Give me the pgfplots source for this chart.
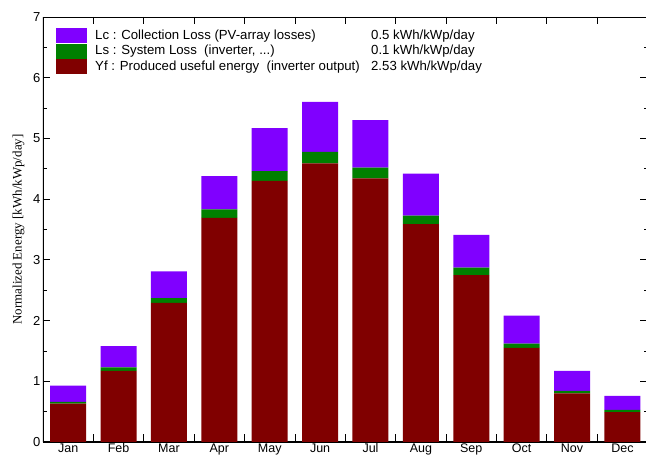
\documentclass[border=0pt]{standalone}
\usepackage{fontspec}
\setmainfont{Liberation Sans}
\newfontfamily\seriffont{Liberation Serif}
\usepackage{pgfplots}
\pgfplotsset{compat=1.18}
\definecolor{lcpurple}{HTML}{8000FF}
\definecolor{lsgreen}{HTML}{008000}
\definecolor{yfred}{HTML}{800000}
\begin{document}
\begin{tikzpicture}
\begin{axis}[
  at={(0pt,0pt)}, anchor=south west,
  scale only axis, width=604.6pt, height=425pt,
  xmin=0.5, xmax=12.5, ymin=0, ymax=7,
  ybar stacked, bar width=36pt, bar shift=0pt,
  xtick={1.5,2.5,...,11.5},
  xticklabels={},
  extra x ticks={1,...,12},
  extra x tick labels={Jan,Feb,Mar,Apr,May,Jun,Jul,Aug,Sep,Oct,Nov,Dec},
  extra x tick style={major tick length=0pt,
    xticklabel style={font=\fontsize{12.5}{13}\selectfont, inner ysep=1.5pt, yshift=0pt}},
  ytick={0,...,7}, minor y tick num=1,
  tick align=inside,
  major tick length=7.5pt, minor tick length=4pt,
  tick style={black, line width=0.8pt},
  axis line style={line width=0.8pt},
  /pgf/number format/assume math mode=true,
  tick label style={font=\fontsize{13}{14}\selectfont},
  yticklabel style={xshift=1pt},
  ylabel={\seriffont Normalized Energy [kWh/kWp/day]},
  ylabel style={font=\fontsize{13}{14}\selectfont, yshift=2pt},
  legend cell align=left,
  reverse legend,
  legend style={draw=none, fill=none, at={(0.0215,0.974)}, anchor=north west,
    inner sep=0pt, row sep=0.5pt,
    font=\fontsize{13.2}{14}\selectfont,
    nodes={inner xsep=8pt, inner ysep=0pt, text height=9.5pt, text depth=3pt}},
  legend image code/.code={\fill[#1] (0pt,-7.5pt) rectangle (31pt,7.5pt);},
]
\addplot+[fill=yfred, draw=none] coordinates {
 (1,0.63) (2,1.17) (3,2.29) (4,3.69) (5,4.30) (6,4.59)
 (7,4.34) (8,3.59) (9,2.75) (10,1.55) (11,0.80) (12,0.49)};
\addlegendentry{\makebox[276pt][l]{Yf : Produced useful energy\ \ (inverter output)}2.53 kWh/kWp/day}
\addplot+[fill=lsgreen, draw=none] coordinates {
 (1,0.03) (2,0.06) (3,0.08) (4,0.14) (5,0.16) (6,0.19)
 (7,0.18) (8,0.14) (9,0.12) (10,0.07) (11,0.04) (12,0.04)};
\addlegendentry{\makebox[276pt][l]{Ls : System Loss\ \ (inverter, ...)}0.1 kWh/kWp/day}
\addplot+[fill=lcpurple, draw=none] coordinates {
 (1,0.27) (2,0.35) (3,0.44) (4,0.55) (5,0.71) (6,0.82)
 (7,0.78) (8,0.69) (9,0.54) (10,0.46) (11,0.33) (12,0.23)};
\addlegendentry{\makebox[276pt][l]{Lc : Collection Loss (PV-array losses)}0.5 kWh/kWp/day}
\draw[line width=2pt] (rel axis cs:0,1) -- (rel axis cs:0,0) -- (rel axis cs:1,0);
\end{axis}
\pgfresetboundingbox
\useasboundingbox (-43pt,-15pt) rectangle (603pt,442pt);
\end{tikzpicture}
\end{document}
